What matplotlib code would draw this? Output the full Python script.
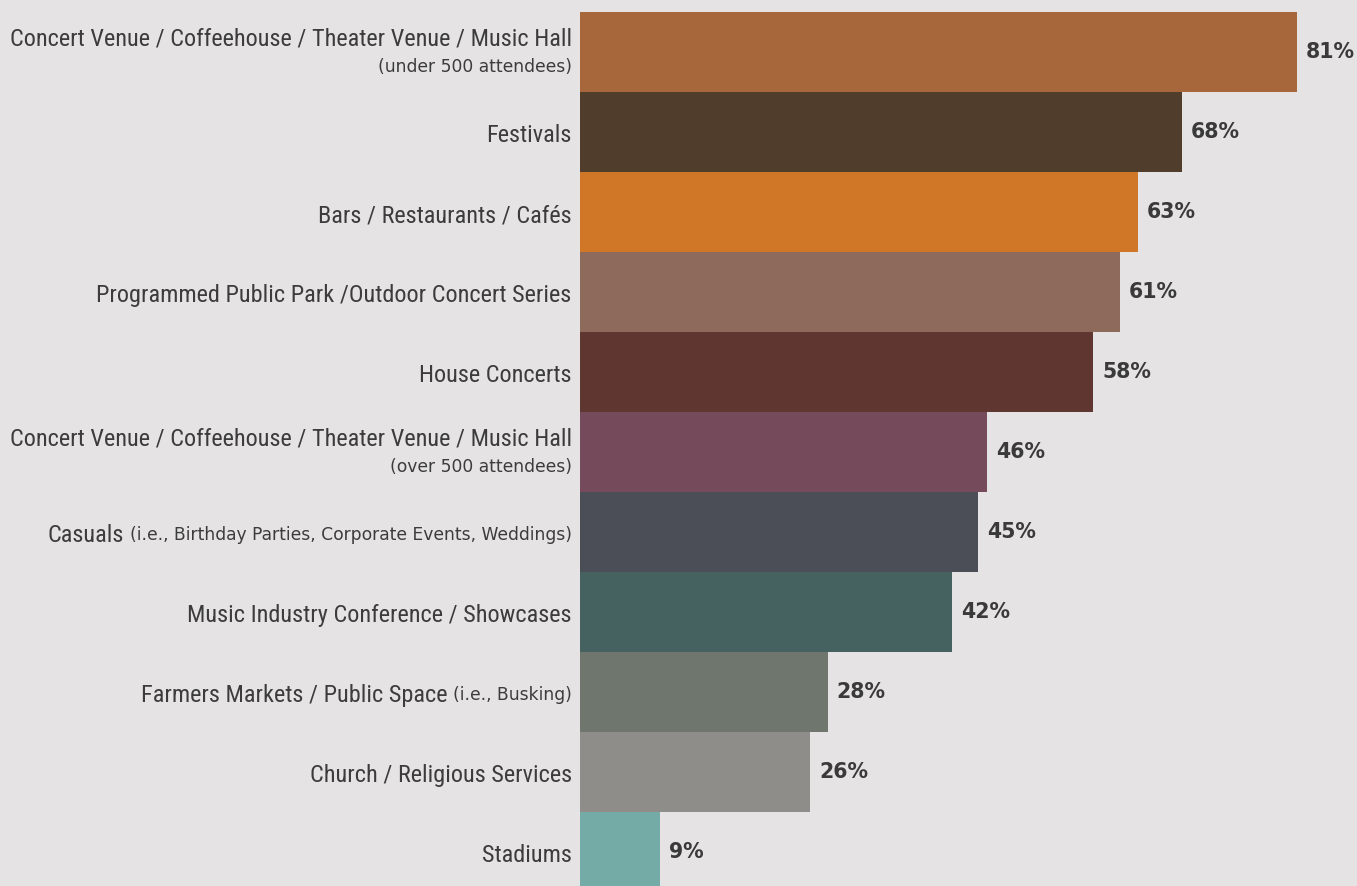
import matplotlib
matplotlib.use("Agg")
import matplotlib.pyplot as plt
from matplotlib import font_manager

categories = [
    "Concert Venue / Coffeehouse / Theater Venue / Music Hall",
    "Festivals",
    "Bars / Restaurants / Cafés",
    "Programmed Public Park /Outdoor Concert Series",
    "House Concerts",
    "Concert Venue / Coffeehouse / Theater Venue / Music Hall",
    "Casuals",
    "Music Industry Conference / Showcases",
    "Farmers Markets / Public Space",
    "Church / Religious Services",
    "Stadiums",
]
notes = [
    "(under 500 attendees)", "", "", "", "",
    "(over 500 attendees)",
    "(i.e., Birthday Parties, Corporate Events, Weddings)",
    "",
    "(i.e., Busking)",
    "", "",
]
# notes placed on their own line below the category name
note_below = [True, False, False, False, False, True, False, False, False, False, False]
values = [81, 68, 63, 61, 58, 46, 45, 42, 28, 26, 9]
colors = ["#a8673a", "#513d2b", "#cf7726", "#8e6a5c", "#603730", "#754a5a",
          "#4b4e56", "#456260", "#6f766e", "#8e8d8a", "#74aba6"]

BG = "#e5e3e4"
TXT = "#3c3c3c"

names = {f.name for f in font_manager.fontManager.ttflist}
main_family = [f for f in ["Roboto Condensed", "Liberation Sans Narrow", "DejaVu Sans"] if f in names][0]
MAIN_FS = 17.5
NOTE_FS = 12.3

fig = plt.figure(figsize=(13.57, 8.86), dpi=100, facecolor=BG)
ax = fig.add_axes([580 / 1357, 0, 1 - 580 / 1357, 1])
ax.set_facecolor(BG)

ypos = list(range(len(values)))
ax.barh(ypos, values, height=1.0, color=colors, edgecolor="none")
ax.set_xlim(0, 777 / 8.85)
ax.set_ylim(-0.5 + 874 / 80, -0.5 - 12 / 80)
ax.axis("off")

for y, v in zip(ypos, values):
    ax.annotate(f"{v}%", xy=(v, y), xytext=(6.5, 0), textcoords="offset points",
                ha="left", va="center", fontsize=14.8, fontweight="bold",
                color="#3a3a3a", family="DejaVu Sans")

fig.canvas.draw()
renderer = fig.canvas.get_renderer()
lab_off = -6  # points left of the baseline

for y, name, note, below in zip(ypos, categories, notes, note_below):
    if note and below:
        ax.annotate(name, xy=(0, y), xytext=(lab_off, 9.5), textcoords="offset points",
                    ha="right", va="center", fontsize=MAIN_FS, color=TXT, family=main_family)
        ax.annotate(note, xy=(0, y), xytext=(lab_off, -11), textcoords="offset points",
                    ha="right", va="center", fontsize=NOTE_FS, color=TXT, family="DejaVu Sans")
    elif note:
        t = ax.annotate(note, xy=(0, y), xytext=(lab_off, -1), textcoords="offset points",
                        ha="right", va="center_baseline", fontsize=NOTE_FS, color=TXT,
                        family="DejaVu Sans")
        w = t.get_window_extent(renderer).width * 72 / fig.dpi
        ax.annotate(name, xy=(0, y), xytext=(lab_off - w - 4, -1), textcoords="offset points",
                    ha="right", va="center_baseline", fontsize=MAIN_FS, color=TXT,
                    family=main_family)
    else:
        ax.annotate(name, xy=(0, y), xytext=(lab_off, -1), textcoords="offset points",
                    ha="right", va="center_baseline", fontsize=MAIN_FS, color=TXT,
                    family=main_family)

fig.savefig("out.png", dpi=100, facecolor=BG)
